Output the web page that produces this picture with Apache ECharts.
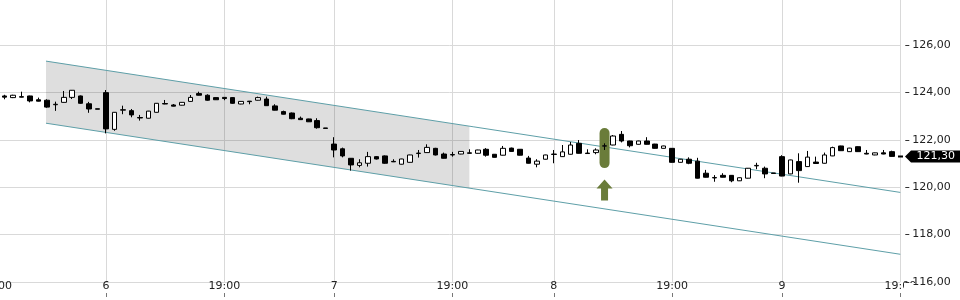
<!DOCTYPE html>
<html><head><meta charset="utf-8">
<script src="https://cdn.jsdelivr.net/npm/echarts@6/dist/echarts.min.js"></script>
<style>html,body{margin:0;padding:0;background:#fff}#c{width:960px;height:300px}</style>
</head><body><div id="c"></div>
<script>
// ---- data ----
const opens = [123.85,123.78,123.82,123.85,123.69,123.67,123.48,123.58,123.79,123.85,123.52,123.31,
123.99,122.44,123.25,123.23,122.94,122.91,123.16,123.53,123.47,123.46,123.62,123.95,123.88,123.78,123.79,123.78,123.51,123.63,123.67,123.72,123.43,123.19,123.13,122.91,122.88,122.81,122.50,
121.82,121.62,121.22,120.92,121.01,121.29,121.32,121.09,120.97,121.05,121.42,121.46,121.64,121.40,121.36,121.40,121.45,121.43,121.60,121.39,121.35,121.65,121.60,121.23,120.97,121.18,
121.38,121.29,121.39,121.85,121.44,121.46,121.73,121.78,122.23,121.95,121.81,121.95,121.82,121.64,121.64,121.05,121.18,121.10,120.59,120.39,120.50,120.50,120.27,120.38,120.90,120.80,120.60,
121.29,120.56,121.08,120.87,121.06,121.01,121.32,121.74,121.50,121.71,121.43,121.36,121.45,121.50];
const closes = [123.80,123.88,123.80,123.64,123.63,123.38,123.50,123.79,124.09,123.54,123.30,123.29,
122.46,123.16,123.27,123.05,122.92,123.21,123.54,123.51,123.42,123.58,123.79,123.88,123.67,123.69,123.74,123.54,123.62,123.61,123.78,123.44,123.25,123.08,122.89,122.85,122.76,122.51,122.48,
121.57,121.32,120.94,121.03,121.29,121.19,121.01,121.07,121.19,121.36,121.44,121.68,121.36,121.22,121.38,121.51,121.43,121.57,121.35,121.26,121.64,121.51,121.35,121.01,121.10,121.36,
121.40,121.49,121.78,121.43,121.42,121.57,121.75,122.16,121.95,121.75,121.95,121.81,121.64,121.74,121.05,121.18,121.01,120.38,120.42,120.41,120.42,120.27,120.40,120.80,120.92,120.56,120.58,
120.47,121.15,120.70,121.27,121.00,121.36,121.67,121.54,121.65,121.50,121.40,121.45,121.40,121.30];
const lows = [123.71,123.76,123.79,123.58,123.62,123.35,123.22,123.57,123.72,123.52,123.14,123.29,
122.27,122.38,123.08,122.95,122.81,122.90,123.15,123.50,123.41,123.45,123.61,123.87,123.65,123.68,123.67,123.52,123.50,123.50,123.66,123.43,123.24,123.07,122.87,122.84,122.75,122.47,122.48,
121.26,121.26,120.70,120.84,120.87,121.17,120.99,121.06,120.96,121.04,121.25,121.45,121.34,121.21,121.29,121.39,121.42,121.42,121.29,121.25,121.34,121.50,121.34,121.00,120.84,121.17,
121.01,121.28,121.38,121.42,121.41,121.39,121.57,121.77,121.89,121.68,121.80,121.80,121.63,121.63,121.04,121.04,120.97,120.37,120.41,120.23,120.41,120.21,120.26,120.37,120.76,120.38,120.58,
120.46,120.55,120.19,120.86,120.99,121.00,121.31,121.53,121.49,121.49,121.39,121.35,121.39,121.29];
const highs = [123.90,123.90,124.03,123.86,123.78,123.71,123.61,124.06,124.10,123.87,123.60,123.31,
124.10,123.17,123.44,123.30,123.05,123.22,123.55,123.68,123.51,123.59,123.89,124.03,123.92,123.79,123.80,123.80,123.63,123.64,123.82,123.82,123.50,123.23,123.15,122.98,122.89,122.91,122.50,
122.11,121.67,121.23,121.18,121.49,121.31,121.34,121.18,121.20,121.37,121.57,121.81,121.66,121.46,121.49,121.52,121.60,121.58,121.65,121.40,121.74,121.67,121.61,121.32,121.18,121.37,
121.57,121.78,121.91,121.99,121.60,121.64,121.85,122.20,122.37,121.96,121.96,122.11,121.83,121.75,121.65,121.19,121.26,121.24,120.73,120.51,120.59,120.51,120.41,120.81,121.03,120.87,120.60,
121.35,121.16,121.43,121.53,121.29,121.46,121.71,121.75,121.66,121.72,121.57,121.46,121.57,121.54];

const slotCount = 108;          // category slots on the time axis
const firstCandleSlot = 1;      // slot of the first candle
const tickSlots  = [0, 13, 27, 40, 54, 66, 80, 93, 107];
const tickLabels = ['19:00', '6', '19:00', '7', '19:00', '8', '19:00', '9', '19:00'];

const channelX     = [5.9, 107];
const channelUpper = [125.32, 119.78];
const channelLower = [122.70, 117.17];
const shadeX       = [5.9, 56];

const signalSlot       = [72];
const signalPillPrice  = [121.65];
const signalArrowPrice = [119.88];

// ---- build ----
const xCategories = [];
for (let i = 0; i < slotCount; i++) {
  const k = tickSlots.indexOf(i);
  xCategories.push(k >= 0 ? tickLabels[k] : '');
}
const isTick = (i) => tickSlots.indexOf(i) >= 0;
const candleData = opens.map((o, i) => [i + firstCandleSlot, o, closes[i], lows[i], highs[i]]);
const lastClose = closes[closes.length - 1];
const fmt = (v) => v.toFixed(2).replace('.', ',');
function chanAt(arr, x) {
  const t = (x - channelX[0]) / (channelX[1] - channelX[0]);
  return arr[0] + (arr[1] - arr[0]) * t;
}

const FONT = 'DejaVu Sans';
const GRIDC = '#d9d9d9';
const chart = echarts.init(document.getElementById('c'), null, {renderer: 'canvas'});
chart.setOption({
  animation: false,
  backgroundColor: '#fff',
  textStyle: {fontFamily: FONT},
  grid: {left: -3.85, right: 59.7, top: -2.4, bottom: 18, containLabel: false, outerBoundsMode: 'none'},
  xAxis: [{
    type: 'category', data: xCategories, boundaryGap: false, position: 'bottom', offset: 11, z: 0,
    axisLine: {show: false},
    axisTick: {show: true, length: 4, interval: isTick, lineStyle: {color: '#777'}},
    axisLabel: {show: true, inside: true, margin: 1, interval: isTick, color: '#222', fontSize: 11, fontFamily: FONT},
    splitLine: {show: true, interval: isTick, lineStyle: {color: GRIDC, width: 1}}
  }, {
    type: 'value', min: 0, max: slotCount - 1, show: false
  }],
  yAxis: [{
    type: 'value', position: 'right', min: 116, max: 128, interval: 2, z: 0,
    axisLine: {show: false}, axisTick: {show: false}, axisLabel: {show: false},
    splitLine: {show: true, lineStyle: {color: GRIDC, width: 1}}
  }, {
    type: 'value', position: 'right', min: 116, max: 128, interval: 2, offset: 5, z: 6,
    axisLine: {show: false},
    axisTick: {show: true, length: 4, lineStyle: {color: '#333'}},
    axisLabel: {margin: 7, color: '#222', fontSize: 11, fontFamily: FONT, showMaxLabel: false, formatter: fmt},
    splitLine: {show: false}
  }],
  graphic: [{
    type: 'rect', left: 904, top: 283, shape: {width: 56, height: 17},
    style: {fill: '#fff'}, z: 4, silent: true
  }],
  series: [{
    type: 'custom', xAxisIndex: 1, yAxisIndex: 0, z: 1, silent: true,
    data: [shadeX], encode: {x: [0, 1]},
    renderItem: function (params, api) {
      const x0 = api.value(0), x1 = api.value(1);
      const pts = [
        api.coord([x0, chanAt(channelUpper, x0)]),
        api.coord([x1, chanAt(channelUpper, x1)]),
        api.coord([x1, chanAt(channelLower, x1)]),
        api.coord([x0, chanAt(channelLower, x0)])
      ];
      return {type: 'polygon', shape: {points: pts}, style: {fill: 'rgba(0,0,0,0.13)'}};
    }
  }, {
    type: 'line', xAxisIndex: 1, yAxisIndex: 0, z: 2, silent: true, symbol: 'none',
    data: channelX.map((x, i) => [x, channelUpper[i]]),
    lineStyle: {color: '#5e9fa8', width: 1}
  }, {
    type: 'line', xAxisIndex: 1, yAxisIndex: 0, z: 2, silent: true, symbol: 'none',
    data: channelX.map((x, i) => [x, channelLower[i]]),
    lineStyle: {color: '#5e9fa8', width: 1}
  }, {
    type: 'scatter', xAxisIndex: 1, yAxisIndex: 0, z: 2, silent: true,
    data: signalSlot.map((s, i) => [s, signalPillPrice[i]]),
    symbol: 'path://M5 0A5 5 0 0 1 10 5L10 35A5 5 0 0 1 0 35L0 5A5 5 0 0 1 5 0Z',
    symbolSize: [10, 40], itemStyle: {color: '#6a7c3a', opacity: 1}
  }, {
    type: 'scatter', xAxisIndex: 1, yAxisIndex: 0, z: 2, silent: true,
    data: signalSlot.map((s, i) => [s, signalArrowPrice[i]]),
    symbol: 'path://M8 0L16 9L11.5 9L11.5 21L4.5 21L4.5 9L0 9Z',
    symbolSize: [16, 21], itemStyle: {color: '#6a7c3a', opacity: 1}
  }, {
    type: 'candlestick', xAxisIndex: 0, yAxisIndex: 0, z: 3, barWidth: 5,
    data: candleData, encode: {x: 0, y: [1, 2, 3, 4]},
    itemStyle: {color: '#fff', color0: '#000', borderColor: '#000', borderColor0: '#000', borderWidth: 1}
  }, {
    type: 'scatter', xAxisIndex: 1, yAxisIndex: 0, z: 7, clip: false, silent: true,
    data: [[slotCount - 1, lastClose]],
    symbol: 'path://M0 5L5 5L5 7L0 7ZM7 6L13 0L62 0L62 12L13 12Z',
    symbolSize: [62, 12], symbolOffset: [28.7, 0],
    itemStyle: {color: '#000', opacity: 1},
    label: {show: true, position: 'inside', offset: [6.7, 0], color: '#fff', fontSize: 11, fontFamily: FONT,
      formatter: (p) => fmt(p.value[1])}
  }]
});
</script>
</body></html>
